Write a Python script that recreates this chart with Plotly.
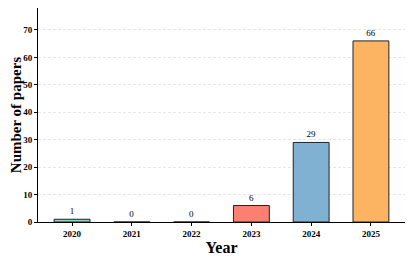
import plotly.graph_objects as go

years = ["2020", "2021", "2022", "2023", "2024", "2025"]
counts = [1, 0, 0, 6, 29, 66]
colors = ["#8dd3c7", "#ffffb3", "#bebada", "#fb8072", "#80b1d3", "#fdb462"]

fig = go.Figure(go.Bar(
    x=years, y=counts,
    marker=dict(color=colors, line=dict(color="#222222", width=1)),
    width=0.6,
    text=[str(c) for c in counts], textposition="outside",
    textfont=dict(family="Liberation Serif", size=9, color="#000000"),
    outsidetextfont=dict(family="Liberation Serif", size=9, color="#000000"),
    cliponaxis=False,
))

# page body adds an 8px offset; margins compensate
fig.update_layout(
    width=415, height=259,
    margin=dict(l=30, r=18, t=0, b=45),
    plot_bgcolor="white", paper_bgcolor="white",
    font=dict(family="Liberation Serif", color="black"),
    showlegend=False,
    bargap=0.4,
)
fig.update_xaxes(
    type="category", range=[-0.57, 5.57], automargin=False,
    showline=True, linecolor="black", linewidth=1,
    ticks="outside", ticklen=3, tickcolor="black",
    tickfont=dict(family="Liberation Serif", size=9, color="black", weight="bold"),
    title=dict(text="<b>Year</b>", font=dict(family="Liberation Serif", size=16, color="black"), standoff=4),
)
fig.update_yaxes(
    range=[0, 78], tickvals=[0, 10, 20, 30, 40, 50, 60, 70], automargin=False,
    showline=True, linecolor="black", linewidth=1,
    ticks="outside", ticklen=3, tickcolor="black",
    tickfont=dict(family="Liberation Serif", size=9, color="black", weight="bold"),
    showgrid=True, gridcolor="#e6e6e6", griddash="3px,2px", gridwidth=0.6,
    zeroline=False,
    title=dict(text="<b>Number of papers</b>", font=dict(family="Liberation Serif", size=15, color="black"), standoff=7),
)

fig.write_html("out.html")
